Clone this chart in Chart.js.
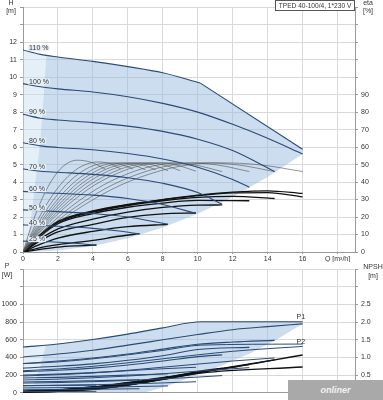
<!DOCTYPE html>
<html><head><meta charset="utf-8">
<script src="https://cdn.jsdelivr.net/npm/chart.js@4.4.1/dist/chart.umd.min.js"></script>
<style>
html,body{margin:0;padding:0;background:#fff;width:383px;height:400px;overflow:hidden}
#c1{position:absolute;left:0;top:0}
#c2{position:absolute;left:0;top:262px}
#wm{position:absolute;left:288px;top:380px;width:95px;height:20px;background:#a9a9a9;color:#f2f2f2;font:italic bold 9px "Liberation Sans",Arial,sans-serif;text-align:center;line-height:20px}
</style></head><body>
<canvas id="c1" width="383" height="262"></canvas>
<canvas id="c2" width="383" height="138"></canvas>
<div id="wm">onliner</div>
<script>
// ---------- texts ----------
const titleText = 'TPED 40-100/4, 1*230 V';
const qAxisTitle = 'Q [m³/h]';
const speedNames = ['110 %','100 %','90 %','80 %','70 %','60 %','50 %','40 %','25 %'];
const xTicks = [0,2,4,6,8,10,12,14,16];

// ---------- head curves H [m] per speed ----------
const headQ = [
  [0,1,2,4,6,8,10.15],
  [0,1,2,4,6,8,10,12,14,16],
  [0,1,2,4,6,8,10,12,14.4],
  [0,1,2,4,6,8,10,12,12.95],
  [0,1,2,4,6,8,10,11.4],
  [0,1,2,4,6,8,9.9],
  [0,1,2,4,6,8.3],
  [0,1,2,4,5.5,6.67],
  [0,1,2,3,4.2]
];
const headH = [
  [11.55,11.3,11.15,10.9,10.6,10.25,9.66],
  [9.63,9.45,9.33,9.15,8.88,8.5,8.0,7.3,6.5,5.6],
  [7.88,7.65,7.55,7.4,7.2,6.9,6.45,5.8,4.6],
  [6.25,6.07,5.98,5.85,5.63,5.32,4.85,4.15,3.71],
  [4.75,4.62,4.56,4.44,4.25,3.93,3.4,2.73],
  [3.47,3.4,3.36,3.25,3.06,2.72,2.2],
  [2.41,2.36,2.31,2.2,2.0,1.58],
  [1.55,1.51,1.47,1.35,1.2,1.03],
  [0.62,0.6,0.56,0.5,0.38]
];
const limitQ = [10.15,16];
const limitH = [9.66,5.88];

// ---------- envelope (top) ----------
const stripTopQ = [0,1,1.33];
const stripTopH = [11.55,11.3,11.2];
const minFlowQ = [0,0.4,0.7,0.95,1.15,1.33];
const minFlowH = [0,1.5,4.0,6.0,8.5,11.2];
const envTopQ = [0,0.4,0.7,0.95,1.15,1.33,2,4,6,8,10.15,16];
const envTopH = [0,1.5,4.0,6.0,8.5,11.2,11.15,10.9,10.6,10.25,9.66,5.88];
const envLowQ = [0,2,4,6,8,10,12,14,16];
const envLowH = [0,0.09,0.35,0.79,1.4,2.19,3.15,4.29,5.6];

// ---------- pump efficiency eta [%] (thin) ----------
const etaQ = [
  [0,0.47,0.93,1.55,2.17,2.64,3.1,3.9,4.7],
  [0,0.65,1.29,2.15,3.01,3.66,4.3,4.95,5.6],
  [0,0.74,1.47,2.45,3.43,4.17,4.9,5.6,6.3],
  [0,0.83,1.65,2.75,3.85,4.68,5.5,6.25,7.0],
  [0,0.9,1.8,3.0,4.2,5.1,6.0,6.8,7.6],
  [0,0.98,1.95,3.25,4.55,5.53,6.5,7.4,8.3],
  [0,1.05,2.1,3.5,4.9,5.95,7.0,8.0,9.0],
  [0,1.14,2.28,3.8,5.32,6.46,7.6,8.75,9.9],
  [0,1.23,2.46,4.1,5.74,6.97,8.2,9.8,11.4],
  [0,1.38,2.76,4.6,6.44,7.82,9.2,11.1,12.95],
  [0,1.53,3.06,5.1,7.14,8.67,10.2,12.3,14.4],
  [0,1.68,3.36,5.6,7.84,9.52,11.2,13.6,16]
];
const etaV = [
  [0,14.6,26.8,39.4,47.8,51.3,52.5,51.3,47.5],
  [0,14.3,26.3,38.6,46.9,50.3,51.5,50.5,47.5],
  [0,14.2,26.0,38.3,46.4,49.9,51.0,50.1,47.5],
  [0,14.2,26.0,38.3,46.4,49.9,51.0,50.0,47.0],
  [0,14.2,26.0,38.3,46.4,49.9,51.0,50.0,47.0],
  [0,14.2,26.0,38.3,46.4,49.9,51.0,49.9,46.5],
  [0,14.2,26.0,38.3,46.4,49.9,51.0,49.9,46.5],
  [0,14.2,26.0,38.3,46.4,49.9,51.0,49.8,46.2],
  [0,14.2,26.0,38.3,46.4,49.9,51.0,49.8,46.0],
  [0,14.2,26.0,38.3,46.4,49.9,51.0,49.8,46.0],
  [0,14.2,26.0,38.3,46.4,49.9,51.0,49.8,46.0],
  [0,14.2,26.0,38.3,46.4,49.9,51.0,49.8,46.0]
];

// ---------- total efficiency eta [%] (thick) ----------
const totQ = [
  [0,1,2,4,6,8,10,12,14,16],
  [0,1,2,4,6,8,10,12,14,16],
  [0,1,2,4,6,8,10,12,14.4],
  [0,1,2,4,6,8,10,12.95],
  [0,1,2,4,6,8,10,11.4],
  [0,1,2,4,6,8,9.9],
  [0,1,2,4,6,8.3],
  [0,1,2,4,5.5,6.67],
  [0,1,2,3,4.2]
];
const totV = [
  [0,10,17.5,23.5,27.2,30,32.5,34.2,35,33.5],
  [0,9.7,17.2,23.2,27,29.8,32.2,33.8,34,31.5],
  [0,9.5,16.8,22.8,26.6,29.3,31.2,31.8,30.6],
  [0,9.2,16.2,22,25.6,28,29.5,29.3],
  [0,7.5,13.2,18.8,22.8,25.5,26.8,26.9],
  [0,6.5,11.5,15.8,19.8,21.8,22.3],
  [0,4.5,8,11.8,14.5,15.8],
  [0,2.5,4.2,6.6,9,10.5],
  [0,1.5,2.8,3.5,4]
];

// ---------- power P1 [W] ----------
const p1Q = [
  [0,2,4,6,8,10.2,16],
  [0,2,4,6,8,10,12,14,16],
  [0,2,4,6,8,10,12,14.4],
  [0,2,4,6,8,10,12.95],
  [0,2,4,6,8,10,11.4],
  [0,2,4,6,8,9.9],
  [0,2,4,6,8.3],
  [0,2,4,6.67],
  [0,2,4.2]
];
const p1W = [
  [518,552,604,665,735,804,804],
  [406,440,482,540,600,660,715,750,781],
  [332,360,395,440,495,550,575,594],
  [280,300,328,368,420,490,515],
  [240,255,280,315,360,410,430],
  [200,212,228,250,272,290],
  [168,175,186,200,215],
  [123,128,136,148],
  [81,84,88]
];
// ---------- power P2 [W] ----------
const p2W = [
  [330,350,385,430,480,540,552],
  [250,270,300,340,385,430,470,500,525],
  [190,205,225,255,290,325,360,395],
  [145,155,170,190,215,245,285],
  [110,116,126,140,158,178,195],
  [80,84,91,100,112,125],
  [55,58,62,69,78],
  [35,37,40,46],
  [14,15,17]
];
// ---------- NPSH [m] ----------
const npshM = [
  [0.02,0.04,0.1,0.22,0.38,0.56,0.73],
  [0.02,0.04,0.1,0.22,0.38,0.56,0.72,0.9,1.07],
  [0.02,0.05,0.11,0.23,0.39,0.57,0.74,0.93],
  [0.02,0.05,0.12,0.24,0.4,0.58,0.8],
  [0.03,0.06,0.13,0.25,0.41,0.6,0.7],
  [0.03,0.06,0.14,0.26,0.42,0.58],
  [0.03,0.07,0.15,0.28,0.46],
  [0.04,0.08,0.16,0.34],
  [0.05,0.09,0.18]
];
// ---------- envelope (bottom) ----------
const pStripTopQ = [0,1.3];
const pStripTopW = [518,540];
const pMinQ = [0,0.6,1.0,1.3];
const pMinW = [0,100,300,540];
const pEnvTopQ = [0,0.6,1.0,1.3,2,4,6,8,10.2,16];
const pEnvTopW = [0,100,300,540,552,604,665,735,804,804];
const pEnvLowQ = [0,7,8,9.5,11.4,13,14.5,16];
const pEnvLowW = [0,5,60,168,308,447,600,781];

// ---------- styles ----------
const FONT = '"Liberation Sans", Arial, sans-serif';
Chart.defaults.font.family = FONT;
Chart.defaults.font.size = 7;
Chart.defaults.color = '#333';
const gridColor = '#d9d9d9';
const borderColor = '#9a9a9a';
const shade = 'rgba(152,188,222,0.5)';
const stripShade = 'rgba(203,223,240,0.5)';
const labelBg = '#e6eff8';
const blue = '#2b4a76';
const thin = '#505050';
const thick = '#121212';

function pts(qs, vs){ return qs.map((q,i)=>({x:q,y:vs[i]})); }
function fillDs(qs, vs, fill, color, axis){
  return {data:pts(qs,vs), fill:fill, backgroundColor:color||'transparent', borderColor:'rgba(0,0,0,0)', borderWidth:1, pointRadius:0, tension:0, yAxisID:axis};
}
function lineDs(qs, vs, color, width, axis, tension){
  const d = {data:pts(qs,vs), fill:false, borderColor:color, borderWidth:width, pointRadius:0, yAxisID:axis};
  if (tension === 0) d.tension = 0; else d.cubicInterpolationMode = 'monotone';
  return d;
}
const xScaleBase = {type:'linear', min:0, max:19,
  grid:{color:gridColor, tickColor:borderColor}, border:{color:borderColor}};

// ===================== TOP CHART =====================
const topSets = [
  fillDs(stripTopQ, stripTopH, '+1', stripShade, 'y'),
  fillDs(minFlowQ, minFlowH, false, null, 'y'),
  fillDs(envTopQ, envTopH, '+1', shade, 'y'),
  fillDs(envLowQ, envLowH, false, null, 'y')
];
headQ.forEach((q,i)=>topSets.push(lineDs(q, headH[i], blue, 1.1, 'y')));
topSets.push(lineDs(limitQ, limitH, blue, 1.1, 'y', 0));
etaQ.forEach((q,i)=>topSets.push(lineDs(q, etaV[i], thin, 0.6, 'yEta')));
totQ.forEach((q,i)=>topSets.push(lineDs(q, totV[i], thick, 1.3, 'yEta')));

const topDeco = {
  id:'topDeco',
  afterDatasetsDraw(chart){
    const {ctx, scales:{x, y}} = chart;
    ctx.save();
    ctx.font = '7px ' + FONT;
    ctx.textBaseline = 'middle';
    speedNames.forEach((name,i)=>{
      const px = x.getPixelForValue(0.35);
      const py = y.getPixelForValue(headH[i][0]) - 2;
      const w = ctx.measureText(name).width;
      ctx.fillStyle = labelBg;
      ctx.fillRect(px-1, py-3, w+2, 6);
      ctx.fillStyle = '#333';
      ctx.textAlign = 'left';
      ctx.fillText(name, px, py);
    });
    // title box
    ctx.fillStyle = '#fff';
    ctx.fillRect(275.5, 0.5, 79, 10);
    ctx.strokeStyle = '#555';
    ctx.lineWidth = 1;
    ctx.strokeRect(275.5, 0.5, 79, 10);
    ctx.fillStyle = '#333';
    ctx.textAlign = 'center';
    ctx.font = '6.6px ' + FONT;
    ctx.fillText(titleText, 315, 6);
    // axis titles
    ctx.font = '7px ' + FONT;
    ctx.fillText('H', 11, 3);
    ctx.fillText('[m]', 11, 11);
    ctx.fillText('eta', 368, 3);
    ctx.fillText('[%]', 368, 11);
    ctx.restore();
  }
};

new Chart(document.getElementById('c1'), {
  type:'line',
  data:{datasets:topSets},
  options:{
    responsive:false, animation:false, devicePixelRatio:1,
    layout:{padding:{top:1,left:0,right:0,bottom:0}},
    plugins:{legend:{display:false}, tooltip:{enabled:false}, filler:{drawTime:'beforeDatasetsDraw'}},
    scales:{
      x:Object.assign({}, xScaleBase, {
        ticks:{stepSize:2, includeBounds:false, autoSkip:false, maxRotation:0, padding:1,
          callback:v=> v===18 ? qAxisTitle : (xTicks.includes(v) ? String(v) : '')},
        grid:{color:gridColor, tickColor:borderColor, tickLength:2},
        afterFit:s=>{s.height=10;}
      }),
      y:{type:'linear', position:'left', min:0, max:14,
        ticks:{stepSize:1, padding:3, callback:v=> v<=12 ? String(v) : ''},
        grid:{color:gridColor, tickColor:borderColor, tickLength:3},
        border:{color:borderColor},
        afterFit:s=>{s.width=23;}},
      yEta:{type:'linear', position:'right', min:0, max:140,
        ticks:{stepSize:10, padding:3, callback:v=> v<=90 ? String(v) : ''},
        grid:{drawOnChartArea:false, tickColor:borderColor, tickLength:3},
        border:{color:borderColor},
        afterFit:s=>{s.width=28;}}
    }
  },
  plugins:[topDeco]
});

// ===================== BOTTOM CHART =====================
const botSets = [
  fillDs(pStripTopQ, pStripTopW, '+1', stripShade, 'y'),
  fillDs(pMinQ, pMinW, false, null, 'y'),
  fillDs(pEnvTopQ, pEnvTopW, '+1', shade, 'y'),
  fillDs(pEnvLowQ, pEnvLowW, false, null, 'y')
];
p1Q.forEach((q,i)=>botSets.push(lineDs(q, p1W[i], blue, 1.1, 'y')));
p1Q.forEach((q,i)=>botSets.push(lineDs(q, p2W[i], blue, 1.0, 'y')));
p1Q.forEach((q,i)=>botSets.push(lineDs(q, npshM[i], thick, 1.3, 'yN')));

const botDeco = {
  id:'botDeco',
  afterDatasetsDraw(chart){
    const {ctx, scales:{x, y}} = chart;
    ctx.save();
    ctx.font = '7px ' + FONT;
    ctx.fillStyle = '#333';
    ctx.textAlign = 'center';
    ctx.textBaseline = 'middle';
    const lastP1 = p1W[1][p1W[1].length-1];
    const lastP2 = p2W[1][p2W[1].length-1];
    ctx.fillText('P1', x.getPixelForValue(15.9), y.getPixelForValue(p1W[0][p1W[0].length-1]) - 5);
    ctx.fillText('P2', x.getPixelForValue(15.9), y.getPixelForValue(lastP2) - 4);
    ctx.fillText('P', 7, 4);
    ctx.fillText('[W]', 7, 13);
    ctx.fillText('NPSH', 373, 5);
    ctx.fillText('[m]', 373, 14);
    ctx.restore();
  }
};

new Chart(document.getElementById('c2'), {
  type:'line',
  data:{datasets:botSets},
  options:{
    responsive:false, animation:false, devicePixelRatio:1,
    layout:{padding:{top:2,left:0,right:0,bottom:0}},
    plugins:{legend:{display:false}, tooltip:{enabled:false}, filler:{drawTime:'beforeDatasetsDraw'}},
    scales:{
      x:Object.assign({}, xScaleBase, {
        ticks:{display:false, stepSize:2, includeBounds:false},
        grid:{color:gridColor, drawTicks:false},
        afterFit:s=>{s.height=2;}
      }),
      y:{type:'linear', position:'left', min:0, max:1400,
        ticks:{stepSize:200, padding:3, callback:v=> v<=1000 ? String(v) : ''},
        grid:{color:gridColor, tickColor:borderColor, tickLength:3},
        border:{color:borderColor},
        afterFit:s=>{s.width=23;}},
      yN:{type:'linear', position:'right', min:0, max:3.5,
        ticks:{stepSize:0.5, padding:3, callback:v=> (v>=0.5 && v<=2.5) ? v.toFixed(1) : ''},
        grid:{drawOnChartArea:false, tickColor:borderColor, tickLength:3},
        border:{color:borderColor},
        afterFit:s=>{s.width=28;}}
    }
  },
  plugins:[botDeco]
});
</script>
</body></html>
